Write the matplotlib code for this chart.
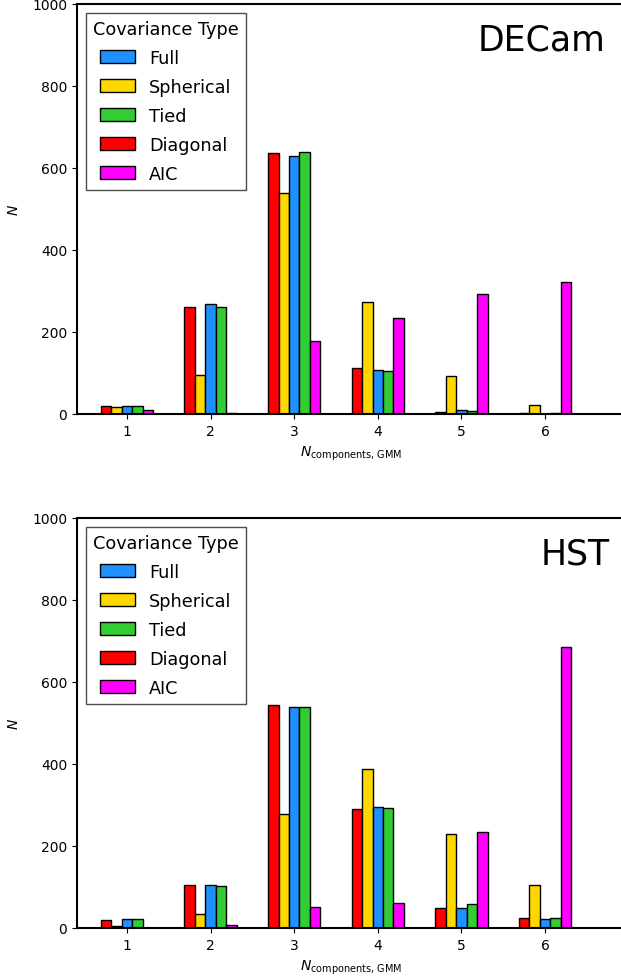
import matplotlib
matplotlib.use("Agg")
import matplotlib.pyplot as plt
import numpy as np

n_components = [1, 2, 3, 4, 5, 6]

# bar order within a group: Diagonal, Spherical, Full, Tied, AIC
decam_diagonal = [20, 260, 637, 113, 6, 3]
decam_spherical = [16, 95, 540, 272, 92, 21]
decam_full = [20, 268, 630, 108, 10, 0]
decam_tied = [20, 262, 640, 106, 7, 3]
decam_aic = [9, 3, 177, 233, 293, 322]

hst_diagonal = [20, 105, 545, 290, 50, 24]
hst_spherical = [6, 33, 278, 387, 229, 104]
hst_full = [22, 105, 538, 295, 50, 21]
hst_tied = [22, 103, 540, 293, 58, 24]
hst_aic = [1, 7, 52, 62, 235, 686]

labels = ["Diagonal", "Spherical", "Full", "Tied", "AIC"]
colors = ["#ff0000", "#ffd700", "#1e90ff", "#32cd32", "#ff00ff"]
legend_order = ["Full", "Spherical", "Tied", "Diagonal", "AIC"]

fig = plt.figure(figsize=(6.21, 9.78), dpi=100)
W, H = 621, 978
ax_left = 77 / W
ax_width = (626 - 77) / W
ax_h = 410 / H
axes = [fig.add_axes([ax_left, (H - 415) / H, ax_width, ax_h]),
        fig.add_axes([ax_left, (H - 929) / H, ax_width, ax_h])]

datasets = [
    ("DECam", [decam_diagonal, decam_spherical, decam_full, decam_tied, decam_aic], 0.962),
    ("HST", [hst_diagonal, hst_spherical, hst_full, hst_tied, hst_aic], 0.971),
]

x = np.array(n_components, dtype=float)
width = 0.125
for ax, (name, series, tx) in zip(axes, datasets):
    handles = {}
    for i, (lab, col, vals) in enumerate(zip(labels, colors, series)):
        b = ax.bar(x + (i - 2) * width, vals, width=width, color=col,
                   edgecolor="black", linewidth=1.0, label=lab)
        handles[lab] = b
    ax.set_xlim(0.402, 6.969)
    ax.set_ylim(0, 1000)
    ax.set_yticks([0, 200, 400, 600, 800, 1000])
    ax.set_xticks(n_components)
    ax.tick_params(labelsize=10)
    ax.set_ylabel("$N$", fontsize=10, labelpad=8)
    ax.set_xlabel(r"$N_{\rm components,\,GMM}$", fontsize=10)
    for s in ax.spines.values():
        s.set_linewidth(1.5)
    leg = ax.legend([handles[l] for l in legend_order], legend_order,
                    title="Covariance Type", loc="upper left",
                    fontsize=12.7, title_fontsize=12.7, fancybox=False,
                    edgecolor="#222222", labelspacing=0.62)
    leg.get_frame().set_linewidth(1.0)
    ax.text(tx, 0.955, name, transform=ax.transAxes, ha="right", va="top",
            fontsize=25)

fig.savefig("out.png", dpi=100)
